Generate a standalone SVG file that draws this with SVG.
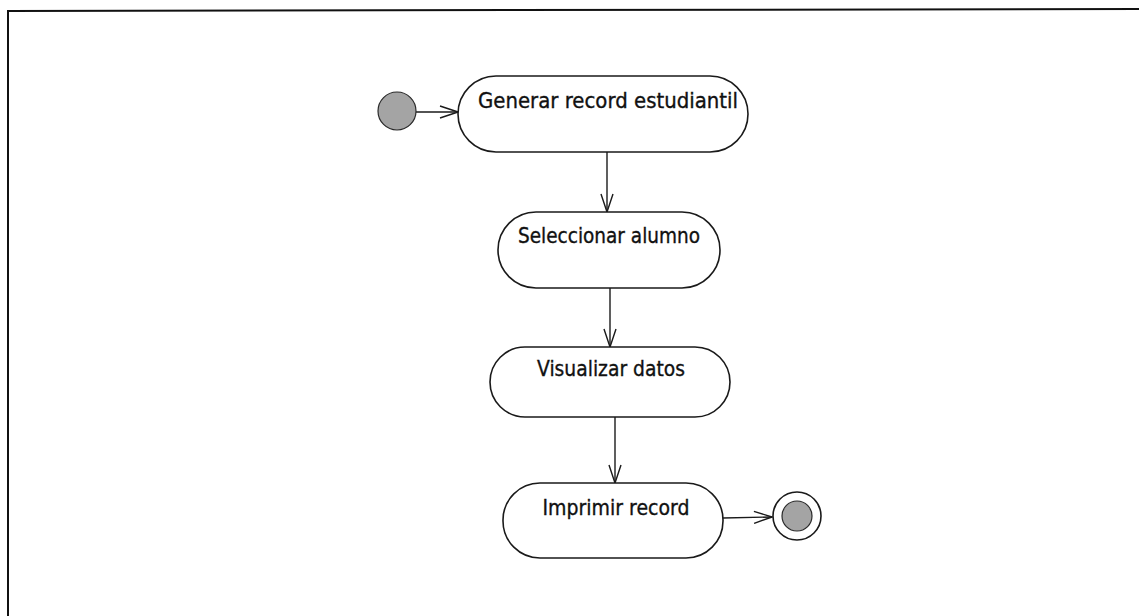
<svg xmlns="http://www.w3.org/2000/svg" width="1139" height="616" viewBox="0 0 1139 616">
  <style>
    .frame { stroke: #111; stroke-width: 2; fill: none; }
    .act { fill: #fff; stroke: #1a1a1a; stroke-width: 1.6; }
    .lbl { font-family: "DejaVu Sans", "Liberation Sans", sans-serif; font-size: 20.5px; fill: #111; stroke: #111; stroke-width: 0.35; text-anchor: middle; }
    .edge { stroke: #1a1a1a; stroke-width: 1.4; fill: none; marker-end: url(#open); }
    .dot { fill: #a4a4a4; stroke: #2a2a2a; stroke-width: 1.2; }
  </style>
  <defs>
    <marker id="open" viewBox="0 0 20 14" refX="19" refY="7" markerWidth="20" markerHeight="14" markerUnits="userSpaceOnUse" orient="auto">
      <path d="M1,1 L19,7 L1,13" fill="none" stroke="#1a1a1a" stroke-width="1.4"/>
    </marker>
  </defs>
  <rect width="1139" height="616" fill="#fff"/>

  <!-- page frame -->
  <path class="frame" d="M8,616 L8,11 L1139,9"/>

  <g id="connectors">
    <line class="edge" x1="416" y1="112" x2="458" y2="112"/>
    <line class="edge" x1="607" y1="152" x2="607" y2="212"/>
    <line class="edge" x1="610" y1="288" x2="610" y2="347"/>
    <line class="edge" x1="615" y1="417" x2="615" y2="483"/>
    <line class="edge" x1="723" y1="518" x2="772" y2="517"/>
  </g>

  <g id="start">
    <circle class="dot" cx="397" cy="111" r="19"/>
  </g>

  <g id="generar">
    <rect class="act" x="458" y="76" width="290" height="76" rx="38" ry="38"/>
    <text class="lbl" x="608" y="108" textLength="260" lengthAdjust="spacingAndGlyphs">Generar record estudiantil</text>
  </g>

  <g id="seleccionar">
    <rect class="act" x="498" y="212" width="222" height="76" rx="38" ry="38"/>
    <text class="lbl" x="609" y="243" textLength="182" lengthAdjust="spacingAndGlyphs">Seleccionar alumno</text>
  </g>

  <g id="visualizar">
    <rect class="act" x="490" y="347" width="240" height="70" rx="35" ry="35"/>
    <text class="lbl" x="611" y="376" textLength="148" lengthAdjust="spacingAndGlyphs">Visualizar datos</text>
  </g>

  <g id="imprimir">
    <rect class="act" x="503" y="483" width="220" height="75" rx="37" ry="37"/>
    <text class="lbl" x="616" y="515" textLength="147" lengthAdjust="spacingAndGlyphs">Imprimir record</text>
  </g>

  <g id="end">
    <circle cx="797" cy="516" r="24" fill="#fff" stroke="#1a1a1a" stroke-width="1.6"/>
    <circle class="dot" cx="797" cy="516" r="15"/>
  </g>
</svg>
